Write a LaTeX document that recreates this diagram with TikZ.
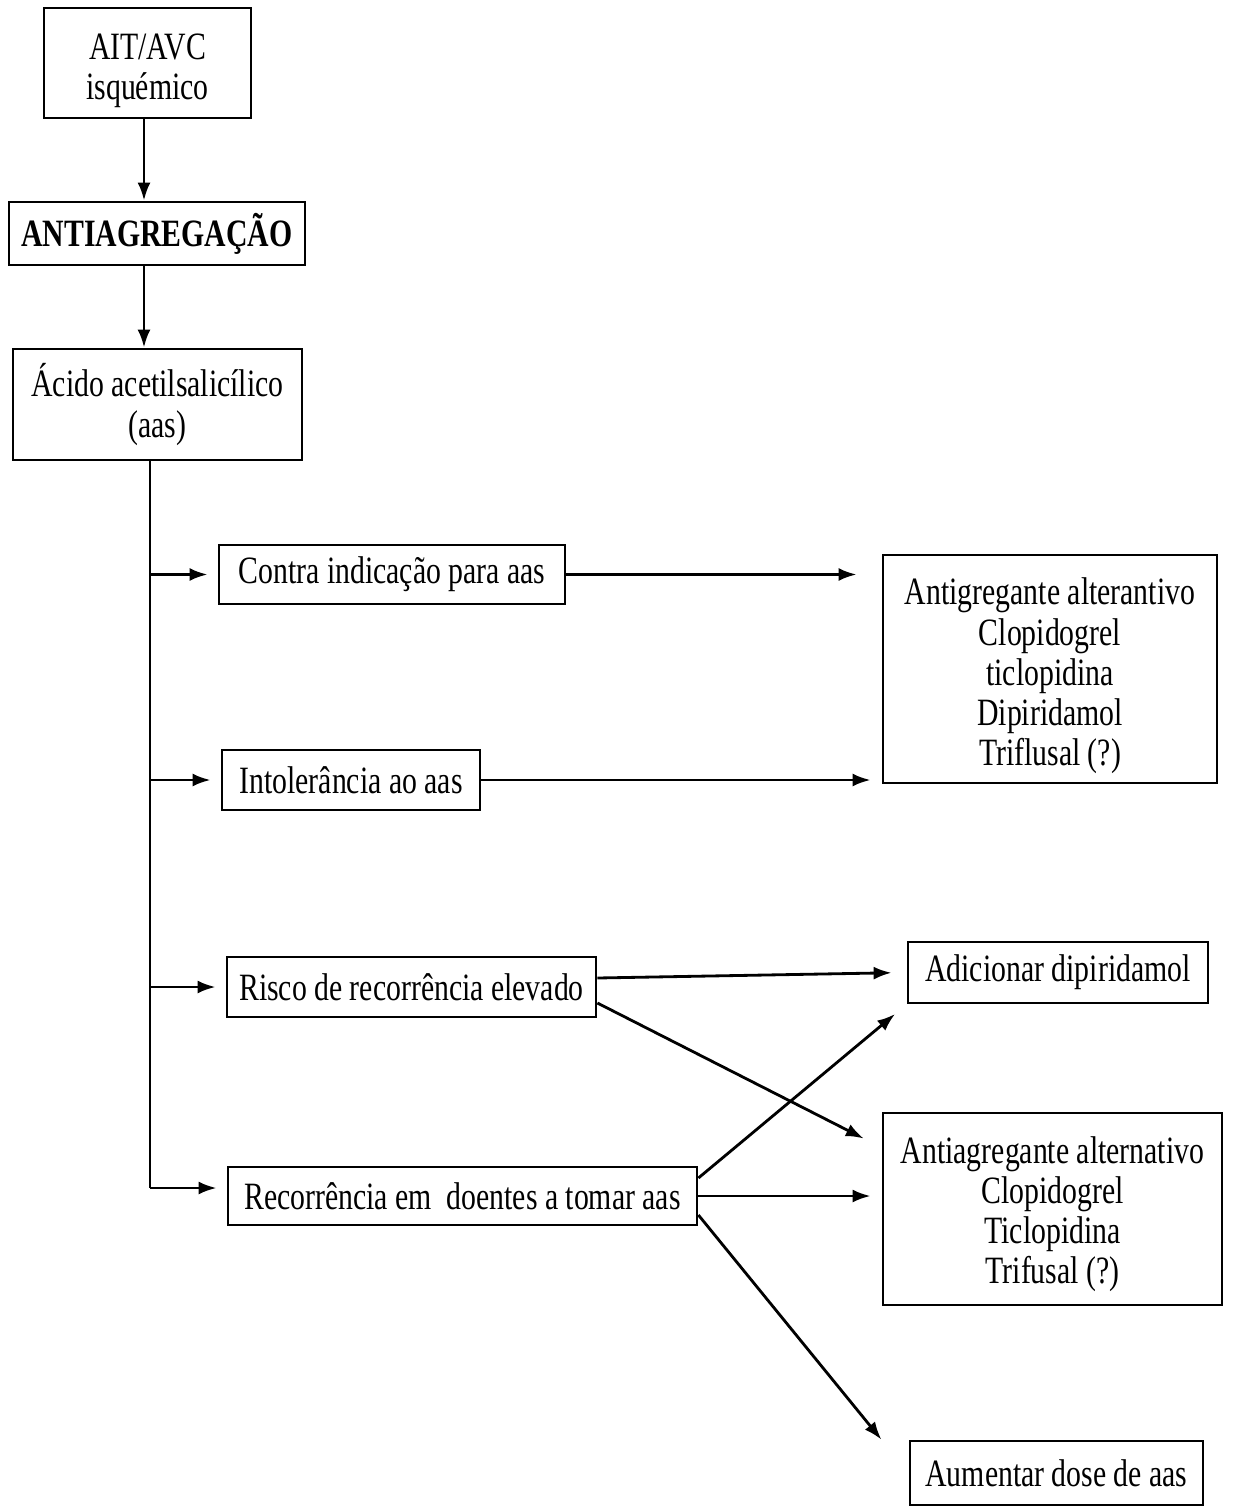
\documentclass[tikz,border=0pt]{standalone}
\usepackage{fontspec}
\setmainfont[FakeStretch=0.77]{Liberation Serif}
\usepackage{tikz}
\usetikzlibrary{arrows.meta, positioning, calc}

\begin{document}
\begin{tikzpicture}[
    >={Latex[length=0.36cm, width=0.26cm]},
    font=\fontsize{22}{22.8}\selectfont,
    line width=1.6pt,
    box/.style={draw, rectangle, line width=1.6pt, inner sep=2pt, align=center},
    link/.style={->, line width=1.6pt},
]

% fixed frame (same proportions as the page)
\useasboundingbox (0, 0) rectangle (24.86, -30.12);

% ============================================================
% TOP CHAIN
% ============================================================
\node[box, minimum width=4.14cm, minimum height=2.2cm] (ait) at (2.95, -1.26)
    {\rule{0pt}{23pt}AIT/AVC\\isquémico};
\node[box, minimum width=5.92cm, minimum height=1.26cm, font=\fontsize{22}{22.8}\selectfont\bfseries]
    (antiag) at (3.14, -4.67) {ANTIAGREGAÇÃO};
\node[box, minimum width=5.78cm, minimum height=2.22cm] (aas) at (3.15, -8.09)
    {Ácido acetilsalicílico\\(aas)};

\draw[link] (ait.south -| 2.88, 0) -- (antiag.north -| 2.88, 0);
\draw[link] (antiag.south -| 2.88, 0) -- (aas.north -| 2.88, 0);

% ============================================================
% SITUATIONS (left column)
% ============================================================
\node[box, minimum width=6.92cm, minimum height=1.18cm] (contra) at (7.84, -11.49)
    {Contra indicação para aas};
\node[box, minimum width=5.16cm, minimum height=1.2cm] (intol) at (7.02, -15.6)
    {Intolerância ao aas};
\node[box, minimum width=7.38cm, minimum height=1.2cm] (risco) at (8.23, -19.74)
    {Risco de recorrência elevado};
\node[box, minimum width=9.38cm, minimum height=1.16cm] (recor) at (9.25, -23.92)
    {Recorrência em\ \ doentes a tomar aas};

% trunk from aas down to the last branch
\coordinate (trunk) at (3.0, -9.2);
\coordinate (lastbr) at (3.0, -23.76);
\draw (trunk) -- (lastbr);

\draw[link, shorten >=0.2cm] (trunk |- contra.west) -- (contra.west);
\draw[link, shorten >=0.2cm] (trunk |- intol.west) -- (intol.west);
\draw[link, shorten >=0.2cm] (trunk |- risco.west) -- (risco.west);
\draw[link, shorten >=0.2cm] (lastbr) -- (lastbr -| recor.west);

% ============================================================
% OPTIONS (right column)
% ============================================================
\node[box, minimum width=6.68cm, minimum height=4.56cm] (alt1) at (21.0, -13.38)
    {\rule{0pt}{23pt}Antigregante alterantivo\\Clopidogrel\\ticlopidina\\Dipiridamol\\Triflusal (?)};
\node[box, minimum width=6.0cm, minimum height=1.22cm] (adic) at (21.16, -19.45)
    {Adicionar dipiridamol};
\node[box, minimum width=6.78cm, minimum height=3.84cm] (alt2) at (21.05, -24.18)
    {\rule{0pt}{21pt}Antiagregante alternativo\\Clopidogrel\\Ticlopidina\\Trifusal (?)};
\node[box, minimum width=5.86cm, minimum height=1.28cm] (dose) at (21.13, -29.46)
    {Aumentar dose de aas};

% contra / intolerance -> alternative
\draw[link, shorten >=0.5cm] (contra.east) -- (alt1.west |- contra.east);
\draw[link, shorten >=0.22cm] (intol.east) -- (alt1.west |- intol.east);

% high risk
\draw[link, shorten >=0.3cm] ([yshift=0.18cm]risco.east) -- (adic.west);
\draw[link, shorten >=0.4cm] ([yshift=-0.32cm]risco.east) -- ([yshift=-0.72cm]alt2.north west);

% recurrence on aas
\draw[link, shorten >=0.3cm] ([yshift=0.36cm]recor.east) -- (adic.south west);
\draw[link, shorten >=0.22cm] (recor.east) -- (alt2.west |- recor.east);
\draw[link, shorten >=0.86cm] ([yshift=-0.38cm]recor.east) -- (dose.west);

\end{tikzpicture}
\end{document}
